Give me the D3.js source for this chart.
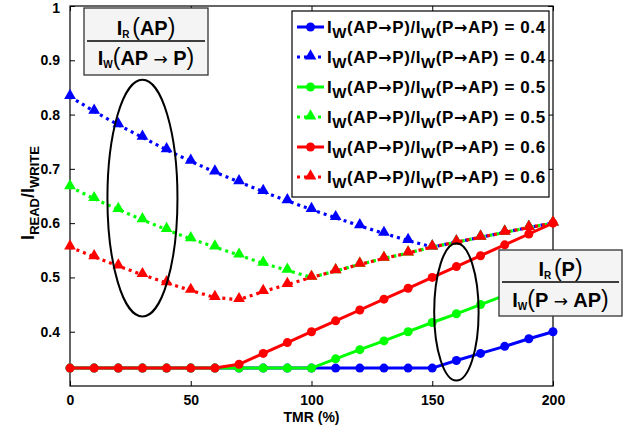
<!DOCTYPE html>
<html>
  <head>
    <script src="https://cdnjs.cloudflare.com/ajax/libs/d3/7.8.5/d3.min.js"></script>
    <style>
      body { margin: 0; background: #fff; }
      text { font-family: "Liberation Sans", Arial, sans-serif; fill: #000; }
    </style>
  </head>
  <body>
    <div id="chart"></div>
    <script>
      // TMR (%) 軸の値
      const tmr = [0,10,20,30,40,50,60,70,80,90,100,110,120,130,140,150,160,170,180,190,200];

      // 実線 (丸) : I_R(P)/I_W(P->AP)
      const solid04 = [0.333,0.333,0.333,0.333,0.333,0.333,0.333,0.333,0.333,0.333,0.333,0.333,0.333,0.333,0.333,0.333,0.347,0.360,0.373,0.387,0.400];
      const solid05 = [0.333,0.333,0.333,0.333,0.333,0.333,0.333,0.333,0.333,0.333,0.333,0.350,0.367,0.383,0.400,0.417,0.433,0.450,0.467,0.483,0.500];
      const solid06 = [0.333,0.333,0.333,0.333,0.333,0.333,0.333,0.340,0.360,0.380,0.400,0.420,0.440,0.460,0.480,0.500,0.520,0.540,0.560,0.580,0.600];

      // 点線 (三角) : I_R(AP)/I_W(AP->P)
      const dot04 = [0.833,0.806,0.781,0.758,0.735,0.714,0.694,0.676,0.658,0.641,0.625,0.610,0.595,0.581,0.568,0.556,0.565,0.574,0.583,0.592,0.600];
      const dot05 = [0.667,0.645,0.625,0.606,0.588,0.571,0.556,0.541,0.526,0.513,0.500,0.512,0.524,0.535,0.545,0.556,0.565,0.574,0.583,0.592,0.600];
      const dot06 = [0.556,0.538,0.521,0.505,0.490,0.476,0.463,0.459,0.474,0.487,0.500,0.512,0.524,0.535,0.545,0.556,0.565,0.574,0.583,0.592,0.600];

      const ratios = ["0.4", "0.4", "0.5", "0.5", "0.6", "0.6"];
      const xTicks = [0, 50, 100, 150, 200];
      const yTicks = [0.4, 0.5, 0.6, 0.7, 0.8, 0.9, 1];

      // 描画順 (MATLAB と同じ)
      const series = [
        { values: solid04, color: "#0000ff", dotted: false },
        { values: dot04, color: "#0000ff", dotted: true },
        { values: solid05, color: "#00ff00", dotted: false },
        { values: dot05, color: "#00ff00", dotted: true },
        { values: solid06, color: "#ff0000", dotted: false },
        { values: dot06, color: "#ff0000", dotted: true },
      ];

      const width = 632, height = 429;
      const svg = d3.select("#chart").append("svg").attr("width", width).attr("height", height);

      const x = d3.scaleLinear().domain([0, 200]).range([70, 553]);
      const y = d3.scaleLinear().domain([0.3, 1]).range([386, 6]);

      // 軸
      svg.append("g").attr("transform", "translate(0,386)")
        .call(d3.axisBottom(x).tickValues(xTicks).tickSizeInner(-5).tickSizeOuter(0).tickPadding(9))
        .call(g => g.select(".domain").remove());
      svg.append("g").attr("transform", "translate(0,6)")
        .call(d3.axisTop(x).tickValues(xTicks).tickSizeInner(-5).tickSizeOuter(0).tickFormat(""))
        .call(g => g.select(".domain").remove());
      svg.append("g").attr("transform", "translate(70,0)")
        .call(d3.axisLeft(y).tickValues(yTicks).tickSizeInner(-5).tickSizeOuter(0).tickPadding(10).tickFormat(d => d === 1 ? "1" : d3.format(".1f")(d)))
        .call(g => g.select(".domain").remove())
        .call(g => g.selectAll(".tick text").filter(d => d === 1).attr("dy", "0.45em"));
      svg.append("g").attr("transform", "translate(553,0)")
        .call(d3.axisRight(y).tickValues(yTicks).tickSizeInner(-5).tickSizeOuter(0).tickFormat(""))
        .call(g => g.select(".domain").remove());
      svg.selectAll(".tick text").style("font-size", "14px").style("font-weight", "bold").style("font-family", "Liberation Sans, Arial, sans-serif");
      svg.selectAll(".tick line").attr("stroke", "#000");
      svg.append("rect").attr("x", 70).attr("y", 6).attr("width", 483).attr("height", 380)
        .attr("fill", "none").attr("stroke", "#000").attr("stroke-width", 1.2);

      const tri = d3.symbol().type(d3.symbolTriangle).size(60);

      // 線とマーカー
      series.forEach(s => {
        const pts = tmr.map((t, i) => [t, s.values[i]]);
        svg.append("path").datum(pts)
          .attr("d", d3.line().x(d => x(d[0])).y(d => y(d[1])))
          .attr("fill", "none").attr("stroke", s.color).attr("stroke-width", s.dotted ? 3.2 : 3)
          .attr("stroke-dasharray", s.dotted ? "3,4" : null);
        const g = svg.append("g");
        if (s.dotted) {
          g.selectAll("path").data(pts).join("path")
            .attr("d", tri).attr("transform", d => `translate(${x(d[0])},${y(d[1]) - 1})`)
            .attr("fill", s.color);
        } else {
          g.selectAll("circle").data(pts).join("circle")
            .attr("cx", d => x(d[0])).attr("cy", d => y(d[1])).attr("r", 4.5)
            .attr("fill", s.color);
        }
      });

      // 楕円
      svg.append("ellipse").attr("cx", x(30)).attr("cy", (y(0.864) + y(0.428)) / 2)
        .attr("rx", x(44.5) - x(30)).attr("ry", (y(0.428) - y(0.864)) / 2)
        .attr("fill", "none").attr("stroke", "#000").attr("stroke-width", 2);
      svg.append("ellipse").attr("cx", x(160)).attr("cy", (y(0.563) + y(0.31)) / 2)
        .attr("rx", x(169.2) - x(160)).attr("ry", (y(0.31) - y(0.563)) / 2)
        .attr("fill", "none").attr("stroke", "#000").attr("stroke-width", 2);

      // 文字の組み立て (下付き文字など)
      function rich(sel, parts) {
        let shift = 0;
        parts.forEach(p => {
          const ts = sel.append("tspan").text(p.t)
            .style("font-size", (p.size || 16) + "px")
            .style("font-weight", p.weight || "bold");
          if (p.font) ts.style("font-family", p.font);
          const want = p.sub || 0;
          if (want !== shift) { ts.attr("dy", want - shift); shift = want; }
        });
        return sel;
      }
      const ARROW = "DejaVu Sans";

      // 凡例
      const lg = svg.append("g");
      lg.append("rect").attr("x", 292).attr("y", 11).attr("width", 257).attr("height", 186)
        .attr("fill", "#fff").attr("stroke", "#000").attr("stroke-width", 1.2);
      series.forEach((s, i) => {
        const cy = 27 + i * 30;
        lg.append("line").attr("x1", 297).attr("x2", 324).attr("y1", cy).attr("y2", cy)
          .attr("stroke", s.color).attr("stroke-width", 3).attr("stroke-dasharray", s.dotted ? "3,4" : null);
        if (s.dotted) {
          lg.append("path").attr("d", tri).attr("transform", `translate(310.5,${cy - 1})`).attr("fill", s.color);
        } else {
          lg.append("circle").attr("cx", 310.5).attr("cy", cy).attr("r", 4.5).attr("fill", s.color);
        }
        const t = lg.append("text").attr("x", 327).attr("y", cy + 6).style("letter-spacing", "0.6px");
        rich(t, [
          { t: "I", size: 17 }, { t: "W", size: 15, sub: 5 },
          { t: "(AP", size: 17 }, { t: "→", size: 16, font: ARROW },
          { t: "P)/I", size: 17 }, { t: "W", size: 15, sub: 5 },
          { t: "(P", size: 17 }, { t: "→", size: 16, font: ARROW },
          { t: "AP) = " + ratios[i], size: 17 },
        ]);
      });

      // 注釈の箱
      function fracBox(x0, y0, w, h, lineY, topParts, botParts, topBase, botBase) {
        const g = svg.append("g");
        g.append("rect").attr("x", x0).attr("y", y0).attr("width", w).attr("height", h)
          .attr("fill", "#f4f4f4").attr("stroke", "#333").attr("stroke-width", 1.3);
        g.append("line").attr("x1", x0 + 3).attr("x2", x0 + w - 3).attr("y1", lineY).attr("y2", lineY)
          .attr("stroke", "#000").attr("stroke-width", 1.3);
        rich(g.append("text").attr("x", x0 + w / 2).attr("y", topBase).attr("text-anchor", "middle"), topParts);
        rich(g.append("text").attr("x", x0 + w / 2).attr("y", botBase).attr("text-anchor", "middle"), botParts);
      }
      fracBox(84, 8, 124, 67, 41,
        [{ t: "I", size: 20 }, { t: "R ", size: 10, sub: 3 }, { t: "(", size: 23, weight: "normal" }, { t: "AP", size: 20 }, { t: ")", size: 23, weight: "normal" }],
        [{ t: "I", size: 20 }, { t: "W", size: 10, sub: 3 }, { t: "(", size: 23, weight: "normal" }, { t: "AP", size: 20 }, { t: " → ", size: 17, weight: "normal", font: ARROW }, { t: "P", size: 20 }, { t: ")", size: 23, weight: "normal" }],
        35, 65);
      fracBox(499, 250, 123, 66, 282,
        [{ t: "I", size: 20 }, { t: "R ", size: 10, sub: 3 }, { t: "(", size: 23, weight: "normal" }, { t: "P", size: 20 }, { t: ")", size: 23, weight: "normal" }],
        [{ t: "I", size: 20 }, { t: "W", size: 10, sub: 3 }, { t: "(", size: 23, weight: "normal" }, { t: "P", size: 20 }, { t: " → ", size: 17, weight: "normal", font: ARROW }, { t: "AP", size: 20 }, { t: ")", size: 23, weight: "normal" }],
        276, 307);

      // 軸ラベル
      svg.append("text").attr("x", 311.5).attr("y", 422).attr("text-anchor", "middle")
        .style("font-size", "14px").style("font-weight", "bold").text("TMR (%)");
      const yl = svg.append("text").attr("transform", "translate(34,193) rotate(-90)").attr("text-anchor", "middle");
      rich(yl, [
        { t: "I", size: 18 }, { t: "READ", size: 13, sub: 5 },
        { t: "/I", size: 18 }, { t: "WRITE", size: 13, sub: 5 },
      ]);
    </script>
  </body>
</html>
